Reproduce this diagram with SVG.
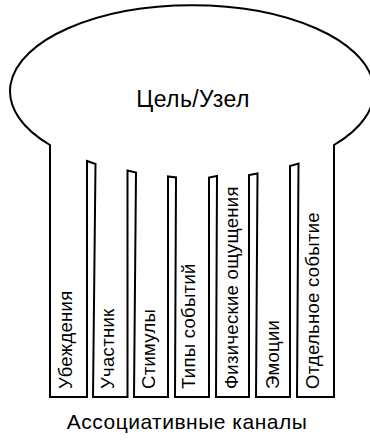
<svg xmlns="http://www.w3.org/2000/svg" width="370" height="440" viewBox="0 0 370 440">
<style>
.shape{fill:#fff;stroke:#000;stroke-width:2;stroke-linejoin:miter}
.t{font-family:"Liberation Sans",Arial,sans-serif;fill:#000}
.lbl{font-size:18.5px;letter-spacing:0.3px}
</style>
<rect width="370" height="440" fill="#fff"/>
<g id="node-goal">
<path class="shape" d="M50,145 A182,86 0 1 1 334,145 L334,397 L297,397 L298.5,163.5 L290,166 L290,397 L256,397 L257.5,173.5 L249,175 L249,397 L216,397 L217,176 L209,177.5 L209,397 L175,397 L176,177.5 L168,176.5 L168,397 L134,397 L136,172.5 L127.5,170.5 L127.5,397 L93,397 L95.5,164 L87,161 L87,397 L50,397 Z"/>
<text class="t" x="193" y="107" font-size="23" letter-spacing="0.4" text-anchor="middle">Цель/Узел</text>
</g>
<g id="ch1"><text class="t lbl" transform="translate(72,389) rotate(-90)">Убеждения</text></g>
<g id="ch2"><text class="t lbl" transform="translate(114,389) rotate(-90)">Участник</text></g>
<g id="ch3"><text class="t lbl" transform="translate(155,389) rotate(-90)">Стимулы</text></g>
<g id="ch4"><text class="t lbl" transform="translate(195,389) rotate(-90)">Типы событий</text></g>
<g id="ch5"><text class="t lbl" transform="translate(238,389) rotate(-90)">Физические ощущения</text></g>
<g id="ch6"><text class="t lbl" transform="translate(279,389) rotate(-90)">Эмоции</text></g>
<g id="ch7"><text class="t lbl" transform="translate(319,389) rotate(-90)">Отдельное событие</text></g>
<text class="t" x="187" y="429" font-size="21" letter-spacing="0.5" text-anchor="middle">Ассоциативные каналы</text>
</svg>
